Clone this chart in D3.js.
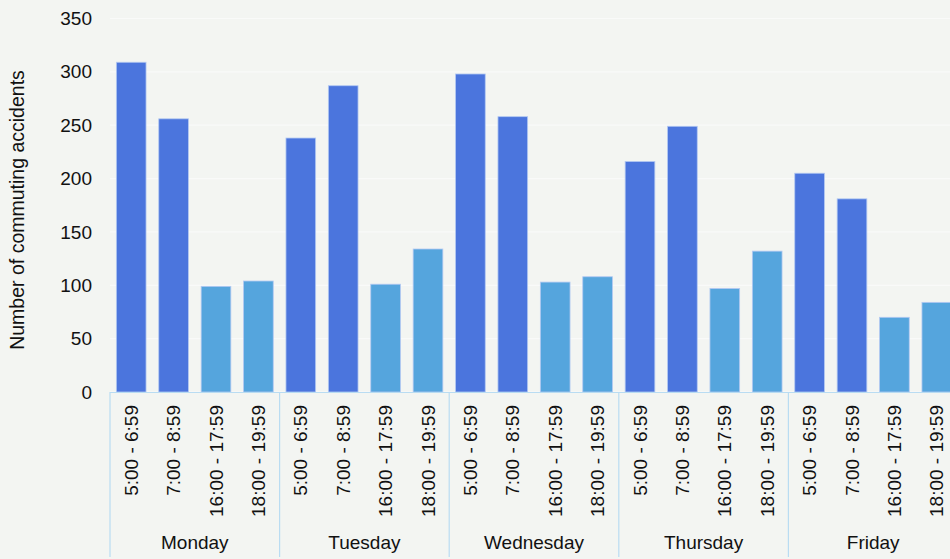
<!DOCTYPE html>
<html>
<head>
<meta charset="utf-8">
<script src="https://cdn.jsdelivr.net/npm/d3@7"></script>
<style>
  body { margin: 0; background: #f3f5f2; }
  svg { display: block; font-family: "Liberation Sans", Arial, sans-serif; }
</style>
</head>
<body>
<script>
// commuting accidents per weekday and time slot
var days = ["Monday", "Tuesday", "Wednesday", "Thursday", "Friday"];
var slots = ["5:00 - 6:59", "7:00 - 8:59", "16:00 - 17:59", "18:00 - 19:59"];
var morning1 = [309, 238, 298, 216, 205];
var morning2 = [256, 287, 258, 249, 181];
var evening1 = [99, 101, 103, 97, 70];
var evening2 = [104, 134, 108, 132, 84];
var yTicks = [0, 50, 100, 150, 200, 250, 300, 350];
var slotColors = ["#4b75dd", "#4b75dd", "#55a5dd", "#55a5dd"];

var width = 950, height = 559;
var plotLeft = 110, plotRight = 958, plotTop = 18.5, plotBottom = 392;
var fontSize = "19px";

var series = [morning1, morning2, evening1, evening2];
var data = [];
days.forEach(function(day, i) {
  slots.forEach(function(slot, j) {
    data.push({day: day, slot: slot, value: series[j][i], k: j});
  });
});

var svg = d3.select("body").append("svg")
    .attr("width", width)
    .attr("height", height);

svg.append("rect")
    .attr("width", width)
    .attr("height", height)
    .attr("fill", "#f3f5f2");

var x0 = d3.scaleBand().domain(days).range([plotLeft, plotRight]);
var x1 = d3.scaleBand().domain(slots).range([0, x0.bandwidth()])
    .paddingInner(0.3).paddingOuter(0.15);
var y = d3.scaleLinear().domain([0, 350]).range([plotBottom, plotTop]);

// faint gridlines
svg.append("g")
  .selectAll("line")
  .data(yTicks)
  .enter().append("line")
    .attr("x1", plotLeft)
    .attr("x2", width)
    .attr("y1", function(d) { return y(d); })
    .attr("y2", function(d) { return y(d); })
    .attr("stroke", "#f9faf9")
    .attr("stroke-width", 1.2);

// y axis labels
var yAxis = d3.axisLeft(y).tickValues(yTicks).tickSize(0).tickPadding(0);
var ya = svg.append("g")
    .attr("transform", "translate(92,0)")
    .call(yAxis);
ya.select(".domain").remove();
ya.selectAll("text")
    .attr("font-size", fontSize)
    .attr("font-family", "Liberation Sans, Arial, sans-serif")
    .attr("fill", "#111");

svg.append("text")
    .attr("transform", "translate(24,210) rotate(-90)")
    .attr("text-anchor", "middle")
    .attr("font-size", "19.5px")
    .attr("fill", "#111")
    .text("Number of commuting accidents");

// bars
svg.append("g")
  .selectAll("rect")
  .data(data)
  .enter().append("rect")
    .attr("x", function(d) { return x0(d.day) + x1(d.slot); })
    .attr("y", function(d) { return y(d.value); })
    .attr("width", x1.bandwidth())
    .attr("height", function(d) { return y(0) - y(d.value); })
    .attr("fill", function(d) { return slotColors[d.k]; })
    .attr("stroke", "#b3c9f2")
    .attr("stroke-width", 0.8);

// category axis
var axisColor = "#b9dcf2";
svg.append("line")
    .attr("x1", plotLeft).attr("x2", width)
    .attr("y1", plotBottom + 0.5).attr("y2", plotBottom + 0.5)
    .attr("stroke", axisColor)
    .attr("stroke-width", 1.2);

svg.append("g")
  .selectAll("line")
  .data(days)
  .enter().append("line")
    .attr("x1", function(d) { return x0(d); })
    .attr("x2", function(d) { return x0(d); })
    .attr("y1", plotBottom)
    .attr("y2", 557)
    .attr("stroke", axisColor)
    .attr("stroke-width", 1.2);

svg.append("g")
  .selectAll("text")
  .data(data)
  .enter().append("text")
    .attr("transform", function(d) {
      return "translate(" + (x0(d.day) + x1(d.slot) + x1.bandwidth() / 2) + ",405) rotate(-90)";
    })
    .attr("text-anchor", "end")
    .attr("dy", "0.35em")
    .attr("font-size", fontSize)
    .attr("fill", "#111")
    .text(function(d) { return d.slot; });

svg.append("g")
  .selectAll("text")
  .data(days)
  .enter().append("text")
    .attr("x", function(d) { return x0(d) + x0.bandwidth() / 2; })
    .attr("y", 549)
    .attr("text-anchor", "middle")
    .attr("font-size", fontSize)
    .attr("fill", "#111")
    .text(function(d) { return d; });
</script>
</body>
</html>
